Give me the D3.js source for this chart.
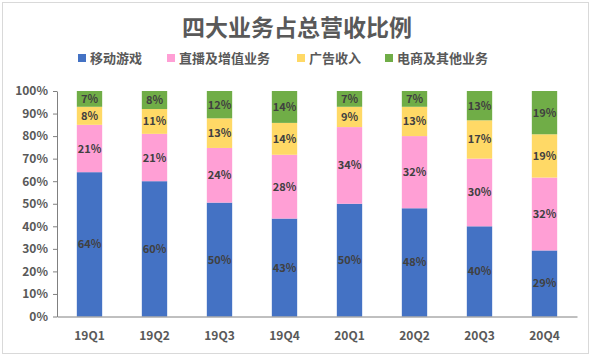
<!DOCTYPE html>
<html><head><meta charset="utf-8">
<script src="https://cdn.jsdelivr.net/npm/d3@7"></script>
<style>body{margin:0;background:#fff}svg{display:block}text{font-family:"Noto Sans CJK SC","Microsoft YaHei",sans-serif}</style>
</head><body><svg id="c" width="592" height="357"></svg>
<script>
const categories = ["19Q1","19Q2","19Q3","19Q4","20Q1","20Q2","20Q3","20Q4"];
const seriesNames = ["移动游戏","直播及增值业务","广告收入","电商及其他业务"];
const mobileGames = [64,60,50,43,50,48,40,29];
const liveVas = [21,21,24,28,34,32,30,32];
const adRevenue = [8,11,13,14,9,13,17,19];
const ecomOther = [7,8,12,14,7,7,13,19];
const yTicks = [0,0.1,0.2,0.3,0.4,0.5,0.6,0.7,0.8,0.9,1];
const colors = ["#4472C4","#FF9FD5","#FFD966","#70AD47"];
const title = "四大业务占总营收比例";

const svg = d3.select("#c");
svg.append("rect").attr("x",2.5).attr("y",2.5).attr("width",586).attr("height",351)
  .attr("fill","#fff").attr("stroke","#d9d9d9");

const keys = ["a","b","c","d"];
const rows = categories.map((c,i)=>({cat:c,a:mobileGames[i],b:liveVas[i],c:adRevenue[i],d:ecomOther[i]}));
const stack = d3.stack().keys(keys).offset(d3.stackOffsetExpand)(rows);

const x = d3.scaleBand().domain(categories).range([57,577]).paddingInner(0.61).paddingOuter(0.305);
const y = d3.scaleLinear().domain([0,1]).range([316.5,91]);

svg.append("text").attr("x",297).attr("y",36).attr("text-anchor","middle")
  .attr("font-size",23).attr("font-weight","bold").attr("fill","#595959").text(title);

const legX = [78,167,297,385];
seriesNames.forEach((n,i)=>{
  svg.append("rect").attr("x",legX[i]).attr("y",54).attr("width",8).attr("height",8).attr("fill",colors[i]);
  svg.append("text").attr("x",legX[i]+12).attr("y",63).attr("font-size",13).attr("font-weight","bold")
    .attr("fill","#595959").text(n);
});

const g = svg.append("g");
stack.forEach((s,si)=>{
  g.selectAll(null).data(s).enter().append("rect")
    .attr("x",d=>x(d.data.cat)).attr("width",x.bandwidth())
    .attr("y",d=>y(d[1])).attr("height",d=>y(d[0])-y(d[1]))
    .attr("fill",colors[si]);
  g.selectAll(null).data(s).enter().append("text")
    .attr("x",d=>x(d.data.cat)+x.bandwidth()/2)
    .attr("y",d=>(y(d[0])+y(d[1]))/2+4)
    .attr("text-anchor","middle").attr("font-size",11).attr("font-weight","bold")
    .attr("fill","#404040")
    .text(d=>d.data[keys[si]]+"%");
});

const yAxis = svg.append("g").attr("transform","translate(57,0)")
  .call(d3.axisLeft(y).tickValues(yTicks).tickFormat(d3.format(".0%")).tickSize(4).tickSizeOuter(0));
yAxis.select(".domain").attr("stroke","#808080");
yAxis.selectAll(".tick line").attr("stroke","#808080");
yAxis.selectAll("text").attr("font-size",12).attr("font-weight","bold").attr("fill","#595959").attr("dx","-2");

const xAxis = svg.append("g").attr("transform","translate(0,316.5)")
  .call(d3.axisBottom(x).tickSize(0).tickSizeOuter(0));
xAxis.select(".domain").attr("stroke","#808080");
xAxis.selectAll("text").attr("font-size",12).attr("font-weight","bold").attr("fill","#595959").attr("dy","1.7em");
</script></body></html>
